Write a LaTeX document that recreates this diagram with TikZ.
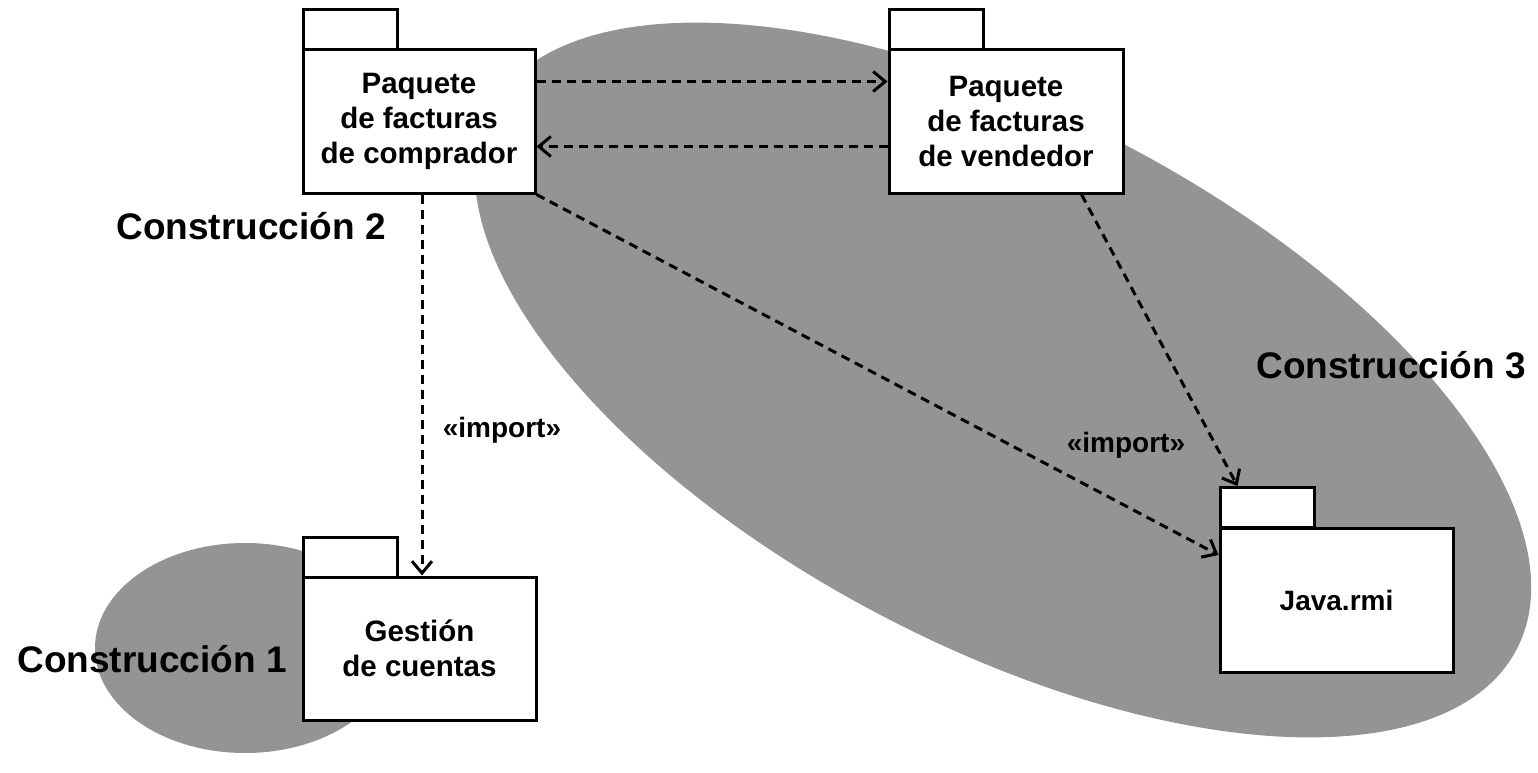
\documentclass[tikz,border=0pt]{standalone}
\usepackage{fontspec}
\setmainfont{Liberation Sans}
\usetikzlibrary{arrows.meta}
\definecolor{regionfill}{gray}{0.58}
\begin{document}
\begin{tikzpicture}[x=1pt,y=1pt,
  pkg/.style={draw, line width=3pt, fill=white, inner sep=0pt, align=center,
    font=\bfseries\fontsize{29.5}{35}\selectfont},
  pkgtab/.style={draw, line width=3pt, fill=white, inner sep=0pt,
    minimum width=94pt, minimum height=40pt},
  build/.style={font=\bfseries\fontsize{37}{44}\selectfont, inner sep=0pt},
  stereo/.style={font=\bfseries\fontsize{28}{34}\selectfont, inner sep=0pt},
  dep/.style={line width=3pt, dash pattern=on 9pt off 6pt,
    -{Straight Barb[length=12pt,width=20pt,line width=3pt]}}
]
\useasboundingbox (0,0) rectangle (1538,-773);
% build regions
\fill[regionfill, rotate around={-27.7:(1003,-380)}] (1003,-380) ellipse [x radius=580, y radius=265];
\fill[regionfill] (245,-648) ellipse [x radius=150, y radius=105];

% packages
\node[pkgtab] (comptab) at (350,-30) {};
\node[pkg, minimum width=232pt, minimum height=143pt] (comp) at (419,-121.5)
  {Paquete\\de facturas\\de comprador};
\node[pkgtab] (vendtab) at (936.5,-30) {};
\node[pkg, minimum width=234pt, minimum height=143pt] (vend) at (1006,-121.5)
  {Paquete\\de facturas\\de vendedor};
\node[pkgtab] (gesttab) at (350,-557.5) {};
\node[pkg, minimum width=233pt, minimum height=143pt] (gest) at (419.5,-648.5)
  {Gestión\\de cuentas};
\node[pkgtab] (javatab) at (1267,-507.5) {};
\node[pkg, minimum width=233pt, minimum height=144pt, font=\bfseries\fontsize{28}{34}\selectfont] (java) at (1336.5,-600)
  {Java.rmi};

% labels
\node[build] (b2) at (251,-226) {Construcción 2};
\node[build] (b3) at (1391,-365) {Construcción 3};
\node[build] (b1) at (152,-659) {Construcción 1};
\node[stereo] (s1) at (502,-430) {«import»};
\node[stereo] (s2) at (1126,-445) {«import»};

% dependencies
\draw[dep] ([yshift=40pt]comp.east) -- ([yshift=40pt]vend.west);
\draw[dep] ([yshift=-25pt]vend.west) -- ([yshift=-25pt]comp.east);
\draw[dep] ([xshift=3pt]comp.south) -- ([xshift=2.5pt]gest.north);
\draw[dep] (comp.south east) -- ([yshift=45pt]java.west);
\draw[dep] ([xshift=-43pt]vend.south east) -- ([xshift=19pt]javatab.north west);
\end{tikzpicture}
\end{document}
